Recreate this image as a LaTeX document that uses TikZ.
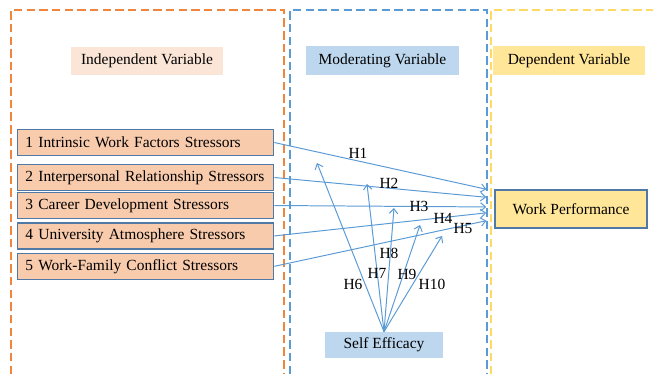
\documentclass[tikz,border=0pt]{standalone}
\usepackage{fontspec}
\setmainfont{Liberation Serif}
\usetikzlibrary{positioning,arrows.meta}

\definecolor{hypblue}{HTML}{5B9BD5}
\definecolor{edgeblue}{HTML}{5079A6}
\definecolor{zoneorange}{HTML}{F0853D}
\definecolor{zoneyellow}{HTML}{FFD966}
\definecolor{headorange}{HTML}{FBE5D6}
\definecolor{stressfill}{HTML}{F8CBAD}
\definecolor{modfill}{HTML}{BDD7EE}
\definecolor{depfill}{HTML}{FFE699}

\tikzstyle{zone} = [line width=1pt, dash pattern=on 6pt off 3pt]
\tikzstyle{header} = [rectangle, minimum width=3.8cm, minimum height=0.7cm, text centered]
\tikzstyle{stressor} = [rectangle, minimum width=6.4cm, minimum height=0.65cm, text width=6cm, inner xsep=5pt, align=left, draw=edgeblue, line width=1.1pt, fill=stressfill]
\tikzstyle{arrow} = [->, >={Straight Barb[length=3.5pt,width=6pt]}, line width=0.7pt, draw=hypblue]

\begin{document}
\begin{tikzpicture}[x=0.025cm, y=-0.025cm, node distance=0.76cm, font=\fontsize{11}{13}\selectfont]

    \useasboundingbox (0,0) rectangle (653,374);

    % dashed zones
    \draw [zone, draw=zoneorange] (11,374) -- (11,10) -- (284,10) -- (284,374);
    \draw [zone, draw=hypblue] (290,374) -- (290,10) -- (487,10) -- (487,374);
    \draw [zone, draw=zoneyellow] (491,374) -- (491,10) -- (653,10);

    \node (indep) [header, fill=headorange] at (147,61) {Independent Variable};
    \node (moder) [header, fill=modfill] at (382.5,60.5) {Moderating Variable};
    \node (depen) [header, fill=depfill] at (569,60.5) {Dependent Variable};

    \node (s1) [stressor] at (145.5,142.5) {1 Intrinsic Work Factors Stressors};
    \node (s2) [stressor, below of=s1, node distance=0.875cm] {2 Interpersonal Relationship Stressors};
    \node (s3) [stressor, below of=s2, node distance=0.7cm] {3 Career Development Stressors};
    \node (s4) [stressor, below of=s3] {4 University Atmosphere Stressors};
    \node (s5) [stressor, below of=s4] {5 Work-Family Conflict Stressors};

    \node (wp) [rectangle, minimum width=3.8cm, minimum height=0.95cm, draw=edgeblue, line width=1.1pt, fill=depfill] at (571,209) {Work Performance};
    \node (se) [rectangle, minimum width=2.95cm, minimum height=0.65cm, fill=modfill] at (384,345) {Self Efficacy};

    \coordinate (t6) at (317,163);
    \coordinate (t7) at (367,184);
    \coordinate (t8) at (394,208);
    \coordinate (t9) at (420,225);
    \coordinate (t10) at (442,236);

    \draw [arrow, shorten >=0.2cm] (s1.east) -- ([yshift=0.45cm]wp.west);
    \draw [arrow, shorten >=0.2cm] (s2.east) -- ([yshift=0.275cm]wp.west);
    \draw [arrow, shorten >=0.2cm] (s3.east) -- ([yshift=0.05cm]wp.west);
    \draw [arrow, shorten >=0.2cm] (s4.east) -- ([yshift=-0.075cm]wp.west);
    \draw [arrow, shorten >=0.2cm] (s5.east) -- ([yshift=-0.25cm]wp.west);

    \draw [arrow] (se.north) -- (t6);
    \draw [arrow] (se.north) -- (t7);
    \draw [arrow] (se.north) -- (t8);
    \draw [arrow] (se.north) -- (t9);
    \draw [arrow] (se.north) -- (t10);

    \node (h1) at (358,153) {H1};
    \node (h2) at (389,183) {H2};
    \node (h3) at (419,206) {H3};
    \node (h4) at (443,218) {H4};
    \node (h5) at (463,229) {H5};
    \node (h6) at (353,284) {H6};
    \node (h7) at (377,273) {H7};
    \node (h8) at (389,253) {H8};
    \node (h9) at (407,274) {H9};
    \node (h10) at (432,284) {H10};

\end{tikzpicture}
\end{document}
